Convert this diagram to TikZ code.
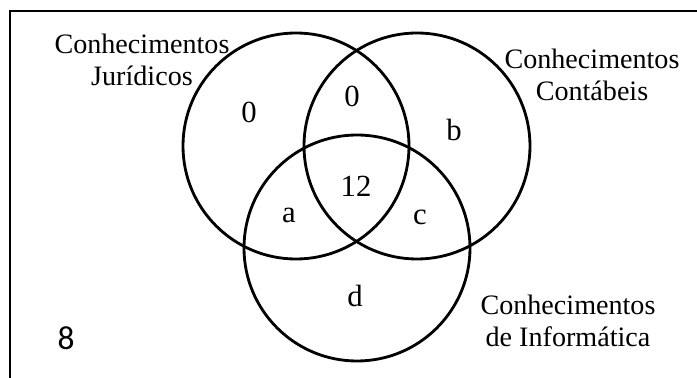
\documentclass[tikz,border=0pt]{standalone}
\usepackage{fontspec}
\setmainfont{Liberation Serif}
\newfontfamily\calib{Carlito}

\begin{document}
\begin{tikzpicture}[x=0.02cm, y=-0.02cm,
  font=\fontsize{16pt}{18.2pt}\selectfont,
  ring/.style={line width=1.6pt},
  lbl/.style={inner sep=0pt, align=center},
  num/.style={inner sep=0pt, font=\fontsize{17.5pt}{20pt}\selectfont}]
\useasboundingbox (0,0) rectangle (697,378);
% the frame, cut at the right and at the bottom
\draw[line width=1pt] (10,378) -- (10,11) -- (697,11);
% the three sets
\foreach \c in {(296,146),(417,146),(357,248)}
  \draw[ring] \c circle (113);
% names of the sets
\node[lbl] (jur)  at (142,60)  {Conhecimentos\\Jurídicos};
\node[lbl] (cont) at (592,75)  {Conhecimentos\\Contábeis};
\node[lbl] (inf)  at (568,321) {Conhecimentos\\de Informática};
% the counts in each region
\node[num] (onlyj)  at (249,112) {0};
\node[num] (jc)     at (352,96)  {0};
\node[num] (onlyc)  at (454,130) {b};
\node[num] (all)    at (356,186) {12};
\node[num] (ji)     at (289,215) {a};
\node[num] (ci)     at (420,217) {c};
\node[num] (onlyi)  at (355,296) {d};
\node[num, font=\calib\fontsize{19pt}{22pt}\selectfont] (none) at (66,338) {8};
\end{tikzpicture}
\end{document}
